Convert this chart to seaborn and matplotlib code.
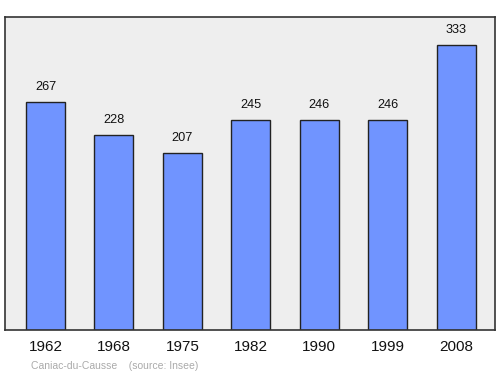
import matplotlib
matplotlib.use("Agg")
import matplotlib.pyplot as plt
import seaborn as sns
import pandas as pd

years = ["1962", "1968", "1975", "1982", "1990", "1999", "2008"]
population = [267, 228, 207, 245, 246, 246, 333]
caption = "Caniac-du-Causse    (source: Insee)"

sns.set_style("white")
plt.rcParams["font.family"] = ["Liberation Sans", "DejaVu Sans"]

df = pd.DataFrame({"year": years, "pop": population})

fig = plt.figure(figsize=(5.0, 3.74), dpi=100)
ax = fig.add_axes([0.01, 0.1176, 0.98, 0.837])
ax.set_facecolor("#EEEEEE")

sns.barplot(data=df, x="year", y="pop", ax=ax, color="#7094FF", saturation=1,
            width=0.57, edgecolor="#222222", linewidth=1.0)

for i, v in enumerate(population):
    ax.annotate(str(v), (i, v), xytext=(0, 6.5), textcoords="offset points",
                ha="center", va="bottom", fontsize=9.2, color="#111111")

ax.set_xlim(-0.592, 6.57)
ax.set_ylim(0, 366)
ax.set_xlabel("")
ax.set_ylabel("")
ax.set_yticks([])
ax.tick_params(axis="x", length=0, labelsize=11, pad=7, colors="#111111")
for s in ax.spines.values():
    s.set_visible(True)
    s.set_color("#333333")
    s.set_linewidth(1.2)

fig.text(0.062, 0.008, caption, fontsize=7.5, color="#AAAAAA", ha="left", va="bottom")

fig.savefig("out.png", dpi=100)
